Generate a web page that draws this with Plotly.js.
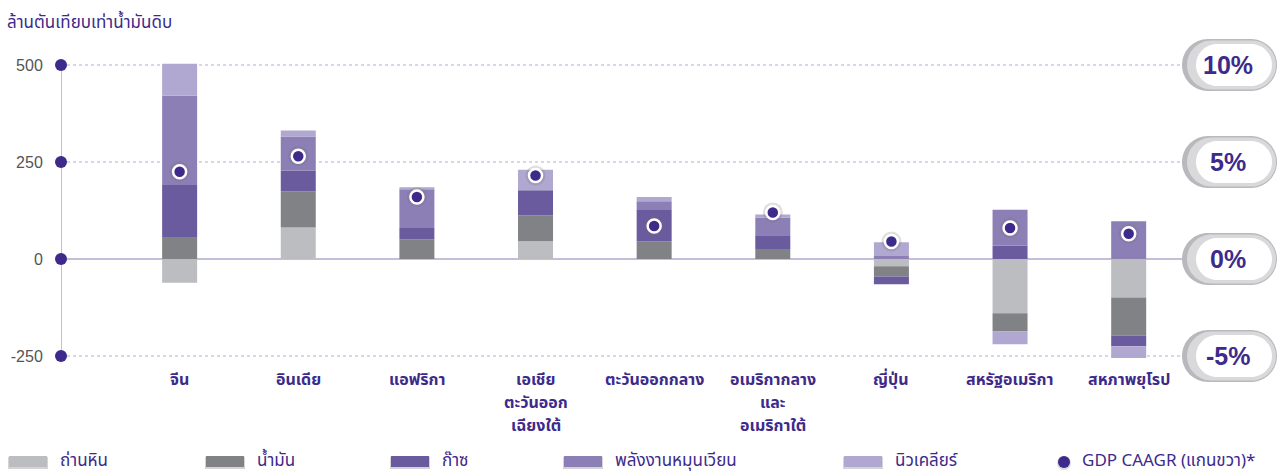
<!DOCTYPE html>
<html>
<head>
<meta charset="utf-8">
<script src="https://cdn.plot.ly/plotly-3.0.1.min.js"></script>
<style>html,body{margin:0;padding:0;background:#fff;}#chart{width:1280px;height:474px;}</style>
</head>
<body>
<div id="chart"></div>
<script>
// ---------- DATA ----------
const categories = ['จีน','อินเดีย','แอฟริกา','เอเชีย<br>ตะวันออก<br>เฉียงใต้','ตะวันออกกลาง','อเมริกากลาง<br>และ<br>อเมริกาใต้','ญี่ปุ่น','สหรัฐอเมริกา','สหภาพยุโรป'];
const coal       = [-61, 81,   0, 46,  0,  0, -19, -140, -99];
const oil        = [ 55, 93,  50, 66, 45, 26, -26,  -47, -98];
const gas        = [136, 54,  30, 65, 81, 35, -20,   35, -28];
const renewables = [230, 88, 100,  0, 23, 46,   8,   92,  97];
const nuclear    = [ 82, 15,   5, 53, 11,  8,  35,  -33, -30];
const gdpCaagr   = [4.5, 5.3, 3.2, 4.3, 1.7, 2.4, 0.9, 1.6, 1.3];
const seriesNames = ['ถ่านหิน','น้ำมัน','ก๊าซ','พลังงานหมุนเวียน','นิวเคลียร์'];
const gdpName = 'GDP CAAGR (แกนขวา)*';
const yTicks = [500, 250, 0, -250];
const yTickText = ['500', '250', '0', '-250'];
const y2Ticks = [10, 5, 0, -5];
const y2TickText = ['10%', '5%', '0%', '-5%'];
const unitTitle = 'ล้านตันเทียบเท่าน้ำมันดิบ';

// ---------- STYLE ----------
const colors = ['#bcbdc0', '#818285', '#6a5a9e', '#8b7fb5', '#b0a8d0'];
const purple = '#3d2a8a';
const thaiFont = '"Noto Sans Thai", "Noto Sans Thai UI", "Noto Sans", sans-serif';
const latinFont = '"Liberation Sans", Arial, sans-serif';
const W = 1280, H = 474;
const M = {l: 61, r: 92, t: 61, b: 114};
const PW = W - M.l - M.r, PH = H - M.t - M.b;
const yRange = [-260.3, 510.3];
const ratio = 50; // 1% on right axis == 50 units on left axis
const y2Range = [yRange[0] / ratio, yRange[1] / ratio];
const xRange = [-1, 8.5];

const px2px = x => (x - M.l) / PW;          // pixel -> paper x
const py2py = y => (M.t + PH - y) / PH;     // pixel -> paper y
const v2py = v => (v - yRange[0]) / (yRange[1] - yRange[0]);

const idx = categories.map((_, i) => i);
const series = [coal, oil, gas, renewables, nuclear];

const traces = series.map((vals, k) => ({
  type: 'bar', x: idx, y: vals, name: seriesNames[k],
  marker: {color: colors[k], line: {width: 0}}, width: 0.295,
  showlegend: false, hoverinfo: 'y+name'
}));

// axis line with tick dots
traces.push({
  type: 'scatter', mode: 'lines+markers', x: yTicks.map(() => xRange[0]), y: yTicks,
  line: {color: '#c4bedd', width: 2}, marker: {color: purple, size: 12},
  cliponaxis: false, showlegend: false, hoverinfo: 'skip'
});
// dot halo
traces.push({
  type: 'scatter', mode: 'markers', x: idx, y: gdpCaagr, yaxis: 'y2',
  marker: {color: 'rgba(110,110,115,0.22)', size: 20},
  showlegend: false, hoverinfo: 'skip', cliponaxis: false
});
traces.push({
  type: 'scatter', mode: 'markers', x: idx, y: gdpCaagr, yaxis: 'y2', name: gdpName,
  marker: {color: purple, size: 13, line: {color: '#ffffff', width: 2.5}},
  showlegend: false, cliponaxis: false
});

// ---------- pills on right axis ----------
function pillPath(L, R, B, T) {
  const r = (T - B) / 2, k = 0.5523 * r, cy = (T + B) / 2;
  return `M${L + r},${B} L${R - r},${B} C${R - r + k},${B} ${R},${cy - k} ${R},${cy} ` +
         `C${R},${cy + k} ${R - r + k},${T} ${R - r},${T} L${L + r},${T} ` +
         `C${L + r - k},${T} ${L},${cy + k} ${L},${cy} C${L},${cy - k} ${L + r - k},${B} ${L + r},${B} Z`;
}
const shapes = [];
const annotations = [];
y2Ticks.forEach((t, i) => {
  const yp = v2py(t * ratio);
  const layers = [
    {L: -6, R: 89, h: 26, c: '#b9b9bd'},
    {L: -1, R: 88, h: 24.5, c: '#d9d9dc'},
    {L: 8, R: 84, h: 21, c: '#ffffff'}
  ];
  layers.forEach(ly => shapes.push({
    type: 'path', xref: 'paper', yref: 'paper', xsizemode: 'pixel', ysizemode: 'pixel',
    xanchor: 1, yanchor: yp, path: pillPath(ly.L, ly.R, -ly.h, ly.h),
    fillcolor: ly.c, line: {width: 0}, layer: 'above'
  }));
  annotations.push({
    xref: 'paper', yref: 'paper', x: px2px(1228), y: yp, xanchor: 'center', yanchor: 'middle',
    text: '<b>' + y2TickText[i] + '</b>', showarrow: false,
    font: {family: latinFont, size: 25, color: purple}
  });
});

// ---------- category labels (one text per line, wider line spacing) ----------
categories.forEach((c, i) => {
  c.split('<br>').forEach((line, j) => {
    annotations.push({
      xref: 'x', yref: 'paper', x: i, y: py2py(380 + 23 * j), xanchor: 'center', yanchor: 'middle',
      text: '<b>' + line + '</b>', showarrow: false,
      font: {family: thaiFont, size: 16, color: purple}
    });
  });
});

// ---------- custom legend ----------
const legX = [8, 205, 390, 563, 843];
const legY = 461;
seriesNames.forEach((n, k) => {
  shapes.push({type: 'rect', xref: 'paper', yref: 'paper',
    x0: px2px(legX[k]), x1: px2px(legX[k] + 40), y0: py2py(legY + 8), y1: py2py(legY - 4),
    fillcolor: '#d4d4d7', line: {width: 0}});
  shapes.push({type: 'rect', xref: 'paper', yref: 'paper',
    x0: px2px(legX[k] + 1), x1: px2px(legX[k] + 39), y0: py2py(legY + 6), y1: py2py(legY - 5),
    fillcolor: colors[k], line: {width: 0}});
  annotations.push({xref: 'paper', yref: 'paper', x: px2px(legX[k] + 50), y: py2py(legY),
    xanchor: 'left', yanchor: 'middle', text: n, showarrow: false,
    font: {family: thaiFont, size: 17, color: purple}});
});
shapes.push({type: 'circle', xref: 'paper', yref: 'paper',
  x0: px2px(1057), x1: px2px(1071), y0: py2py(legY + 9), y1: py2py(legY - 5),
  fillcolor: 'rgba(110,110,115,0.25)', line: {width: 0}});
shapes.push({type: 'circle', xref: 'paper', yref: 'paper',
  x0: px2px(1058), x1: px2px(1070), y0: py2py(legY + 7), y1: py2py(legY - 5),
  fillcolor: purple, line: {width: 0}});
annotations.push({xref: 'paper', yref: 'paper', x: px2px(1080), y: py2py(legY),
  xanchor: 'left', yanchor: 'middle', text: gdpName, showarrow: false,
  font: {family: thaiFont, size: 17, color: purple}});

const layout = {
  width: W, height: H, margin: M,
  paper_bgcolor: '#ffffff', plot_bgcolor: '#ffffff',
  barmode: 'relative', showlegend: false,
  title: {text: unitTitle, xref: 'container', yref: 'container', x: 7 / W, y: 1 - 22 / H,
    xanchor: 'left', yanchor: 'middle', font: {family: thaiFont, size: 17, color: purple}},
  xaxis: {range: xRange, tickvals: idx, showticklabels: false, showgrid: false, zeroline: false,
    showline: false, ticks: '', fixedrange: true},
  yaxis: {range: yRange, tickvals: yTicks, ticktext: yTickText, showline: false,
    showgrid: true, gridcolor: '#d9d5ea', griddash: 'dot', gridwidth: 2,
    zeroline: true, zerolinecolor: '#c4bedd', zerolinewidth: 2,
    ticks: 'outside', ticklen: 14, tickcolor: 'rgba(0,0,0,0)',
    tickfont: {family: latinFont, size: 16, color: '#555555'}, fixedrange: true},
  yaxis2: {range: y2Range, overlaying: 'y', side: 'right', showgrid: false, zeroline: false,
    showticklabels: false, ticks: '', showline: false, fixedrange: true},
  shapes: shapes, annotations: annotations
};

Plotly.newPlot('chart', traces, layout, {displayModeBar: false, staticPlot: true});
</script>
</body>
</html>
